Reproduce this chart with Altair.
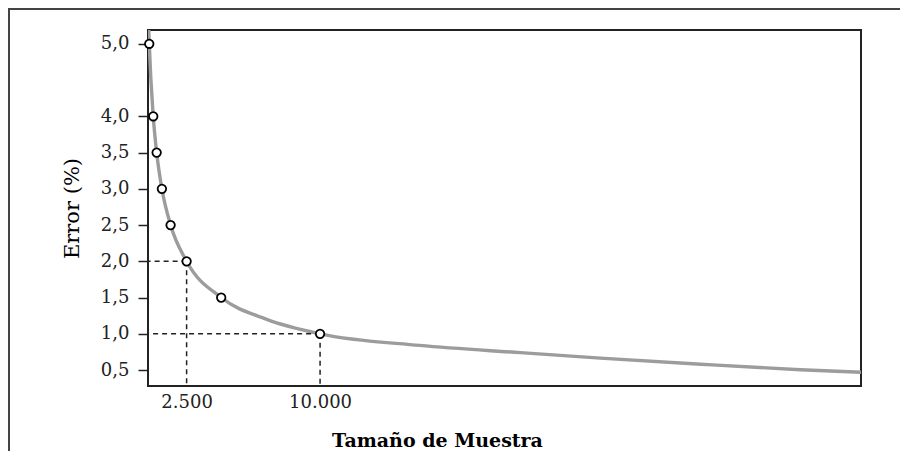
import altair as alt
import pandas as pd

# curve (sample size, error %)
curve_n = [371, 400, 625, 816, 1111, 1600, 2500, 4444, 7000, 10000, 15600, 21250, 25750, 31400, 37000, 40400]
curve_err = [5.2, 5.0, 4.0, 3.5, 3.0, 2.5, 2.0, 1.5, 1.2, 1.0, 0.84, 0.74, 0.665, 0.58, 0.505, 0.47]

# marked points
point_n = [400, 625, 816, 1111, 1600, 2500, 4444, 10000]
point_err = [5.0, 4.0, 3.5, 3.0, 2.5, 2.0, 1.5, 1.0]

# guide lines
guide_n = [2500, 10000]
guide_err = [2.0, 1.0]

y_ticks = [0.5, 1.0, 1.5, 2.0, 2.5, 3.0, 3.5, 4.0, 5.0]
x_ticks = [2500, 10000]

FONT = "DejaVu Serif"
DARK = "#222222"
W, H = 713, 356

curve_df = pd.DataFrame({"n": curve_n, "err": curve_err})
point_df = pd.DataFrame({"n": point_n, "err": point_err})
guide_df = pd.DataFrame({"n": guide_n, "err": guide_err})

xscale = alt.Scale(domain=[330, 40400], nice=False, zero=False)
yscale = alt.Scale(domain=[0.28, 5.19], nice=False, zero=False)

xaxis = alt.Axis(
    values=x_ticks,
    labelExpr="replace(format(datum.value, ',d'), ',', '.')",
    ticks=False, domain=False, grid=False,
    labelFont=FONT, labelFontSize=18, labelColor=DARK, labelPadding=7,
    title="Tamaño de Muestra", titleFont=FONT, titleFontSize=19, titleFontWeight="bold",
    titleColor="#000000", titleX=289, titleY=60, titleBaseline="alphabetic", titleAnchor="middle",
)
yaxis = alt.Axis(
    values=y_ticks,
    labelExpr="replace(format(datum.value, '.1f'), '.', ',')",
    ticks=True, tickSize=10, tickWidth=1.5, tickColor=DARK, domain=False, grid=False,
    labelFont=FONT, labelFontSize=18, labelColor=DARK, labelPadding=9,
    title="Error (%)", titleFont=FONT, titleFontSize=21, titleFontWeight="normal",
    titleColor="#000000", titlePadding=18,
)

x_enc = alt.X("n:Q", scale=xscale, axis=xaxis)
y_enc = alt.Y("err:Q", scale=yscale, axis=yaxis)

curve = alt.Chart(curve_df).mark_line(
    color="#9c9c9c", strokeWidth=3.4, interpolate="monotone", clip=True
).encode(x=x_enc, y=y_enc)

h_guides = alt.Chart(guide_df).mark_rule(
    color=DARK, strokeWidth=1.5, strokeDash=[5, 4]
).encode(x="n:Q", x2=alt.value(0), y="err:Q")

v_guides = alt.Chart(guide_df).mark_rule(
    color=DARK, strokeWidth=1.5, strokeDash=[5, 4]
).encode(x="n:Q", y="err:Q", y2=alt.value(H))

points = alt.Chart(point_df).mark_point(
    shape="circle", filled=True, fill="#ffffff", stroke="#000000", strokeWidth=1.8, size=72, opacity=1
).encode(x="n:Q", y="err:Q")

frame = alt.Chart(alt.Data(values=[{"a": 1}])).mark_rect(
    fill="transparent", stroke="#444444", strokeWidth=2, clip=False
).encode(x=alt.value(-139), x2=alt.value(W + 200), y=alt.value(-21), y2=alt.value(H + 200))

chart = alt.layer(frame, curve, h_guides, v_guides, points).properties(
    width=W, height=H,
    autosize=alt.AutoSizeParams(type="none"),
    padding={"left": 140, "top": 22, "right": 39, "bottom": 65},
    background="#ffffff",
).configure_view(stroke=DARK, strokeWidth=2)

chart.save("out.html", embed_options={"renderer": "svg", "actions": False})
